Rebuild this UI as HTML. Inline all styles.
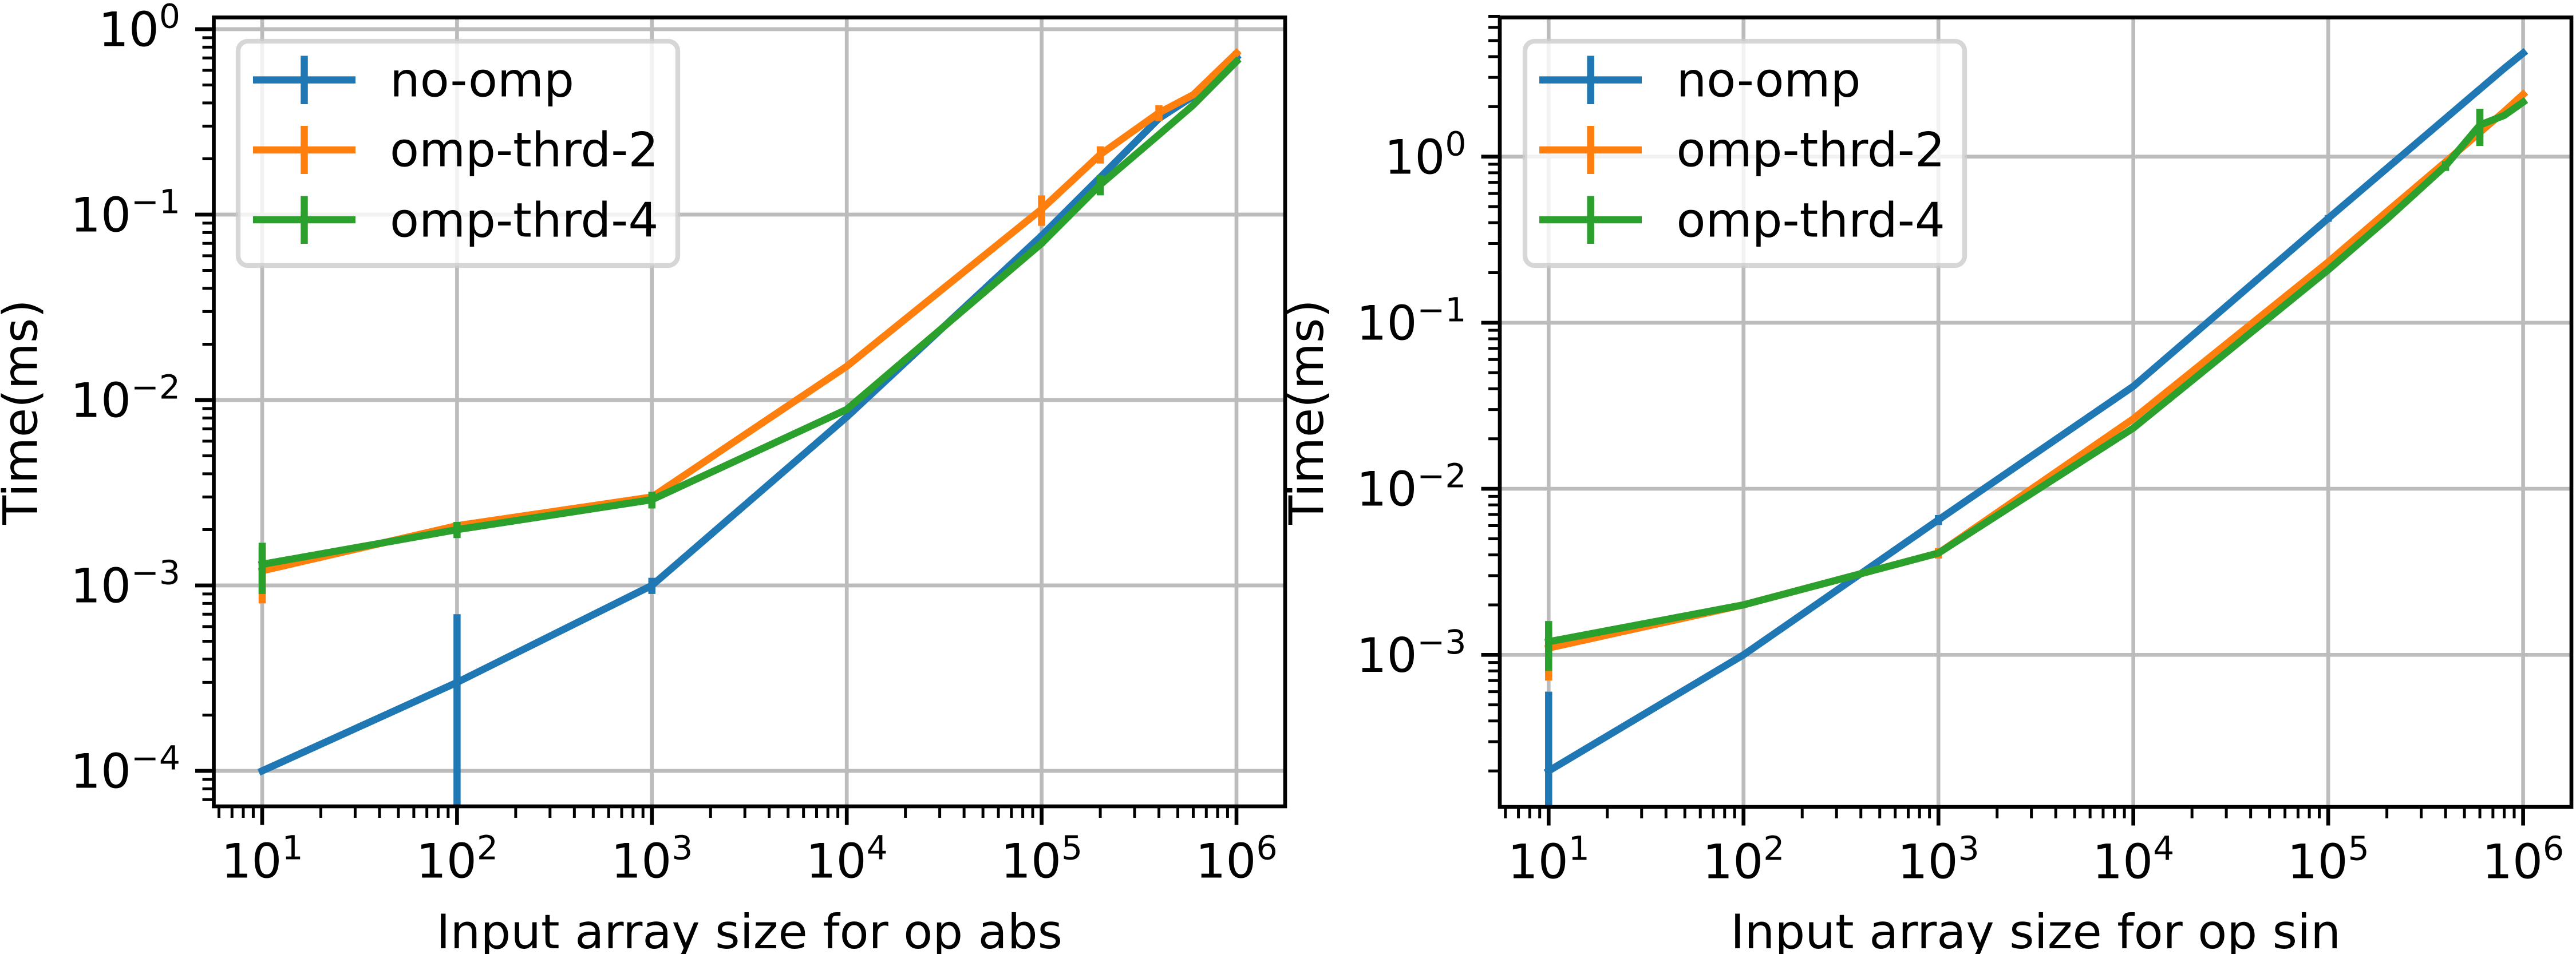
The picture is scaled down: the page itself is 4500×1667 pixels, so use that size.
<!DOCTYPE html>
<html lang="en">
<head>
<meta charset="utf-8">
<title>Time vs input array size for op abs and op sin</title>
<style>
html,body{margin:0;padding:0;background:#fff;}
svg{display:block;}
text{font-family:"DejaVu Sans","Liberation Sans",sans-serif;fill:#000;}
</style>
</head>
<body>
<svg id="figure" xmlns="http://www.w3.org/2000/svg" width="4500" height="1667" viewBox="0 0 4500 1667">
  <rect x="0" y="0" width="4500" height="1667" fill="#ffffff"/>
  <defs>
    <clipPath id="clip-abs"><rect x="373.5" y="30.5" width="1871.5" height="1378.5"/></clipPath>
    <clipPath id="clip-sin"><rect x="2620" y="30.5" width="1872" height="1379.5"/></clipPath>
  </defs>

  <g id="panel-abs"></g>
  <g id="panel-sin"></g>

  <text x="1309" y="1657" font-size="83.33" text-anchor="middle">Input array size for op abs</text>
  <text transform="translate(64.5 720) rotate(-90)" font-size="83.33" text-anchor="middle">Time(ms)</text>
  <text x="3556" y="1657" font-size="83.33" text-anchor="middle">Input array size for op sin</text>
  <text transform="translate(2311 720) rotate(-90)" font-size="83.33" text-anchor="middle">Time(ms)</text>

  <g>
    <rect x="416" y="72" width="768" height="392" rx="17" ry="17" fill="#ffffff" fill-opacity="0.8" stroke="#cccccc" stroke-opacity="0.8" stroke-width="8.33"/>
    <g>
      <path d="M442 139.6H621M531.5 97.5V182" stroke="#1f77b4" stroke-width="12.5" fill="none"/>
      <text x="681" y="168.6" font-size="83.33">no-omp</text>
    </g>
    <g>
      <path d="M442 262H621M531.5 220V304" stroke="#ff7f0e" stroke-width="12.5" fill="none"/>
      <text x="681" y="290.7" font-size="83.33">omp-thrd-2</text>
    </g>
    <g>
      <path d="M442 384H621M531.5 342.5V426" stroke="#2ca02c" stroke-width="12.5" fill="none"/>
      <text x="681" y="413.6" font-size="83.33">omp-thrd-4</text>
    </g>
  </g>

  <g>
    <rect x="2664" y="72" width="768" height="392" rx="17" ry="17" fill="#ffffff" fill-opacity="0.8" stroke="#cccccc" stroke-opacity="0.8" stroke-width="8.33"/>
    <g>
      <path d="M2689 139.6H2868M2778.7 97.5V182" stroke="#1f77b4" stroke-width="12.5" fill="none"/>
      <text x="2928.5" y="168.6" font-size="83.33">no-omp</text>
    </g>
    <g>
      <path d="M2689 262H2868M2778.7 220V304" stroke="#ff7f0e" stroke-width="12.5" fill="none"/>
      <text x="2928.5" y="290.7" font-size="83.33">omp-thrd-2</text>
    </g>
    <g>
      <path d="M2689 384H2868M2778.7 342.5V426" stroke="#2ca02c" stroke-width="12.5" fill="none"/>
      <text x="2928.5" y="413.6" font-size="83.33">omp-thrd-4</text>
    </g>
  </g>
</svg>

<script>
// ---- data ----
const seriesNames = ['no-omp', 'omp-thrd-2', 'omp-thrd-4'];
const xTickExponents = [1, 2, 3, 4, 5, 6];
const absYTickExponents = [0, -1, -2, -3, -4];
const sinYTickExponents = [0, -1, -2, -3];

const absSizes = [10, 100, 1000, 10000, 100000, 200000, 400000, 600000, 1000000];
const absNoOmp = [0.0001, 0.0003, 0.001, 0.0081, 0.077, 0.159, 0.33, 0.435, 0.706];
const absNoOmpErr = [0, 0.0004, 0.0001, 0, 0.002, 0.004, 0.006, 0.005, 0.03];
const absThrd2 = [0.0012, 0.0021, 0.003, 0.0152, 0.107, 0.211, 0.354, 0.443, 0.743];
const absThrd2Err = [0.0004, 0.0001, 0.0001, 0, 0.02, 0.0225, 0.035, 0.004, 0.02];
const absThrd4 = [0.0013, 0.002, 0.0029, 0.0089, 0.07, 0.145, 0.27, 0.39, 0.67];
const absThrd4Err = [0.0004, 0.0002, 0.0003, 0, 0.002, 0.018, 0.004, 0.004, 0.01];

const sinSizes = [10, 100, 1000, 10000, 100000, 200000, 400000, 600000, 800000, 1000000];
const sinNoOmp = [0.0002, 0.001, 0.0065, 0.0414, 0.425, 0.85, 1.7, 2.55, 3.4, 4.2];
const sinNoOmpErr = [0.0004, 0.00002, 0.00045, 0.001, 0.02, 0, 0, 0, 0, 0];
const sinThrd2 = [0.0011, 0.002, 0.0041, 0.0264, 0.232, 0.466, 0.93, 1.4, 1.87, 2.37];
const sinThrd2Err = [0.0004, 0, 0.0003, 0, 0, 0, 0, 0, 0, 0];
const sinThrd4 = [0.0012, 0.002, 0.0041, 0.0232, 0.208, 0.42, 0.88, 1.55, 1.77, 2.13];
const sinThrd4Err = [0.0004, 0.00006, 0, 0, 0, 0, 0.06, 0.39, 0, 0.05];

const seriesColors = ['#1f77b4', '#ff7f0e', '#2ca02c'];
const NS = 'http://www.w3.org/2000/svg';
const minorMultipliers = [2, 3, 4, 5, 6, 7, 8, 9];

function mk(tag, attrs, parent) {
  const el = document.createElementNS(NS, tag);
  for (const key in attrs) el.setAttribute(key, attrs[key]);
  parent.appendChild(el);
  return el;
}

function drawPanel(panel) {
  const root = document.getElementById(panel.id);
  const box = panel.box;
  const xScale = function (v) { return box.x10 + (Math.log10(v) - 1) * box.decadeX; };
  const yScale = function (v) { return box.y1 - Math.log10(v) * box.decadeY; };

  // grid
  const grid = mk('g', { 'clip-path': 'url(#' + panel.clip + ')' }, root);
  
  
  xTickExponents.forEach(function (e) {
    const x = xScale(Math.pow(10, e));
    const line = mk('line', { x1: x, x2: x, y1: box.top, y2: box.bottom, stroke: '#bcbcbc', 'stroke-width': 6.67 }, grid);
    
    
  });
  panel.yTicks.forEach(function (e) {
    const y = yScale(Math.pow(10, e));
    const line = mk('line', { x1: box.left, x2: box.right, y1: y, y2: y, stroke: '#bcbcbc', 'stroke-width': 6.67 }, grid);
    
    
  });

  // series
  const marks = mk('g', { 'clip-path': 'url(#' + panel.clip + ')' }, root);
  
  
  panel.series.forEach(function (s, i) {
    const group = mk('g', {}, marks);
    
    
    s.values.forEach(function (v, k) {
      const err = s.errors[k];
      if (!err) return;
      const x = xScale(panel.sizes[k]);
      const lower = v - err;
      const y1 = lower > 0 ? yScale(lower) : box.bottom + 20;
      const y2 = yScale(v + err);
      const bar = mk('line', { x1: x, x2: x, y1: y1, y2: y2, stroke: seriesColors[i], 'stroke-width': 12.5 }, group);
      
      
    });
    const pts = s.values.map(function (v, k) { return xScale(panel.sizes[k]).toFixed(2) + ',' + yScale(v).toFixed(2); }).join(' ');
    const line = mk('polyline', { points: pts, fill: 'none', stroke: seriesColors[i], 'stroke-width': 12.5, 'stroke-linecap': 'square', 'stroke-linejoin': 'round' }, group);
    
    
  });

  // minor x ticks
  const ticks = mk('g', {}, root);
  
  
  for (let e = 0; e <= 6; e++) {
    minorMultipliers.forEach(function (m) {
      const x = xScale(m * Math.pow(10, e));
      if (x < box.left - 1 || x > box.right + 1) return;
      const t = mk('line', { x1: x, x2: x, y1: box.bottom, y2: box.bottom + 16.67 + 3.3, stroke: '#000', 'stroke-width': 5 }, ticks);
      
      
    });
  }
  // minor y ticks
  for (let e = -6; e <= 1; e++) {
    minorMultipliers.forEach(function (m) {
      const y = yScale(m * Math.pow(10, e));
      if (y < box.top - 3 || y > box.bottom + 1) return;
      const t = mk('line', { x1: box.left, x2: box.left - 16.67 - 3.3, y1: y, y2: y, stroke: '#000', 'stroke-width': 5 }, ticks);
      
      
    });
  }
  // major x ticks and labels
  xTickExponents.forEach(function (e) {
    const x = xScale(Math.pow(10, e));
    const t = mk('line', { x1: x, x2: x, y1: box.bottom, y2: box.bottom + 29.17 + 3.3, stroke: '#000', 'stroke-width': 6.67 }, ticks);
    
    
    const label = mk('text', { x: x, y: box.bottom + 124.7, 'font-size': 83.33, 'text-anchor': 'middle' }, root);
    
    
    writePower(label, e);
  });
  // major y ticks and labels
  panel.yTicks.forEach(function (e) {
    const y = yScale(Math.pow(10, e));
    const t = mk('line', { x1: box.left, x2: box.left - 29.17 - 3.3, y1: y, y2: y, stroke: '#000', 'stroke-width': 6.67 }, ticks);
    
    
    const label = mk('text', { x: box.left - 58.5, y: y + 29.6, 'font-size': 83.33, 'text-anchor': 'end' }, root);
    
    
    writePower(label, e);
  });

  // spines
  const spines = mk('rect', { x: box.left, y: box.top, width: box.right - box.left, height: box.bottom - box.top, fill: 'none', stroke: '#000', 'stroke-width': 6.67, 'stroke-linejoin': 'miter' }, root);
  
  
}

function writePower(label, exponent) {
  const base = mk('tspan', {}, label);
  base.textContent = '10';
  const sup = mk('tspan', { dy: -32, 'font-size': 58.33 }, label);
  sup.textContent = (exponent < 0 ? '\u2212' : '') + Math.abs(exponent);
}

drawPanel({
  id: 'panel-abs',
  clip: 'clip-abs',
  sizes: absSizes,
  yTicks: absYTickExponents,
  box: { left: 373.5, right: 2245, top: 30.5, bottom: 1409, x10: 458, decadeX: 340.4, y1: 51, decadeY: 324 },
  series: [
    { values: absNoOmp, errors: absNoOmpErr },
    { values: absThrd2, errors: absThrd2Err },
    { values: absThrd4, errors: absThrd4Err }
  ]
});

drawPanel({
  id: 'panel-sin',
  clip: 'clip-sin',
  sizes: sinSizes,
  yTicks: sinYTickExponents,
  box: { left: 2620, right: 4492, top: 30.5, bottom: 1410, x10: 2705.3, decadeX: 340.46, y1: 273.7, decadeY: 290.2 },
  series: [
    { values: sinNoOmp, errors: sinNoOmpErr },
    { values: sinThrd2, errors: sinThrd2Err },
    { values: sinThrd4, errors: sinThrd4Err }
  ]
});
</script>
</body>
</html>
